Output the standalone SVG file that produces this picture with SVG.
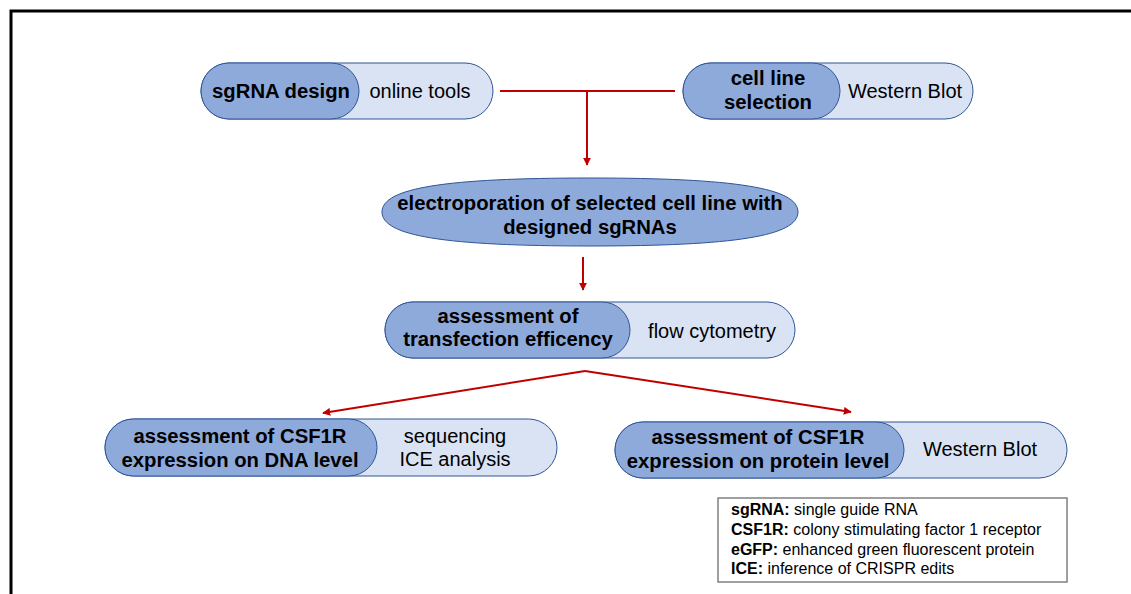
<svg xmlns="http://www.w3.org/2000/svg" width="1131" height="594" viewBox="0 0 1131 594">
<defs>
<style>
.lt{fill:#DAE3F3;stroke:#2F5597;stroke-width:1}
.dk{fill:#8EAADB;stroke:#2F5597;stroke-width:1}
.b{font-family:"Liberation Sans",Arial,sans-serif;font-weight:bold;font-size:20.3px;fill:#000;text-anchor:middle}
.r{font-family:"Liberation Sans",Arial,sans-serif;font-size:20px;fill:#000;text-anchor:middle}
.lg{font-family:"Liberation Sans",Arial,sans-serif;font-size:16px;fill:#000}
.c{stroke:#C00000;stroke-width:2;fill:none}
</style>
<marker id="ah" viewBox="0 0 10 10" refX="9" refY="5" markerWidth="4" markerHeight="4" orient="auto" markerUnits="strokeWidth">
<path d="M0,0 L10,5 L0,10 z" fill="#C00000"/>
</marker>
</defs>
<rect x="0" y="0" width="1131" height="594" fill="#fff"/>
<path d="M11,594 V11 H1131" fill="none" stroke="#000" stroke-width="3"/>

<g id="connectors">
<path class="c" d="M500,91 H675"/>
<path class="c" d="M587,91 V165" marker-end="url(#ah)"/>
<path class="c" d="M583,257 V290" marker-end="url(#ah)"/>
<path class="c" d="M585,371 L323,413" marker-end="url(#ah)"/>
<path class="c" d="M585,371 L851,412" marker-end="url(#ah)"/>
</g>

<g id="sgrna">
<rect class="lt" x="201" y="63" width="292" height="56" rx="28"/>
<rect class="dk" x="201" y="63" width="158" height="56" rx="28"/>
<text class="b" x="281" y="98">sgRNA design</text>
<text class="r" x="420" y="98">online tools</text>
</g>

<g id="cellline">
<rect class="lt" x="683" y="63" width="290" height="56" rx="28"/>
<rect class="dk" x="683" y="63" width="157" height="56" rx="28"/>
<text class="b" x="768" y="85">cell line</text>
<text class="b" x="768" y="109">selection</text>
<text class="r" x="905" y="98">Western Blot</text>
</g>

<g id="electroporation">
<path class="dk" d="M590,178 C735,178 798,188 798,212 C798,236 735,246 590,246 C445,246 382,236 382,212 C382,188 445,178 590,178 Z"/>
<text class="b" x="590" y="210">electroporation of selected cell line with</text>
<text class="b" x="590" y="234">designed sgRNAs</text>
</g>

<g id="transfection">
<rect class="lt" x="385" y="302" width="410" height="56" rx="28"/>
<rect class="dk" x="385" y="302" width="245" height="56" rx="28"/>
<text class="b" x="508" y="323">assessment of</text>
<text class="b" x="508" y="346">transfection efficency</text>
<text class="r" x="712" y="338">flow cytometry</text>
</g>

<g id="dna">
<rect class="lt" x="105" y="419" width="452" height="57" rx="28.5"/>
<rect class="dk" x="105" y="419" width="272" height="57" rx="28.5"/>
<text class="b" x="240" y="443">assessment of CSF1R</text>
<text class="b" x="240" y="467">expression on DNA level</text>
<text class="r" x="455" y="443">sequencing</text>
<text class="r" x="455" y="466">ICE analysis</text>
</g>

<g id="protein">
<rect class="lt" x="615" y="422" width="452" height="56" rx="28"/>
<rect class="dk" x="615" y="422" width="289" height="56" rx="28"/>
<text class="b" x="758" y="444">assessment of CSF1R</text>
<text class="b" x="758" y="468">expression on protein level</text>
<text class="r" x="980" y="456">Western Blot</text>
</g>

<g id="legend">
<rect x="718" y="498" width="349" height="84" fill="#fff" stroke="#808080" stroke-width="1.5"/>
<text class="lg" x="731" y="515"><tspan font-weight="bold">sgRNA:</tspan> single guide RNA</text>
<text class="lg" x="731" y="535"><tspan font-weight="bold">CSF1R:</tspan> colony stimulating factor 1 receptor</text>
<text class="lg" x="731" y="555"><tspan font-weight="bold">eGFP:</tspan> enhanced green fluorescent protein</text>
<text class="lg" x="731" y="574"><tspan font-weight="bold">ICE:</tspan> inference of CRISPR edits</text>
</g>
</svg>
